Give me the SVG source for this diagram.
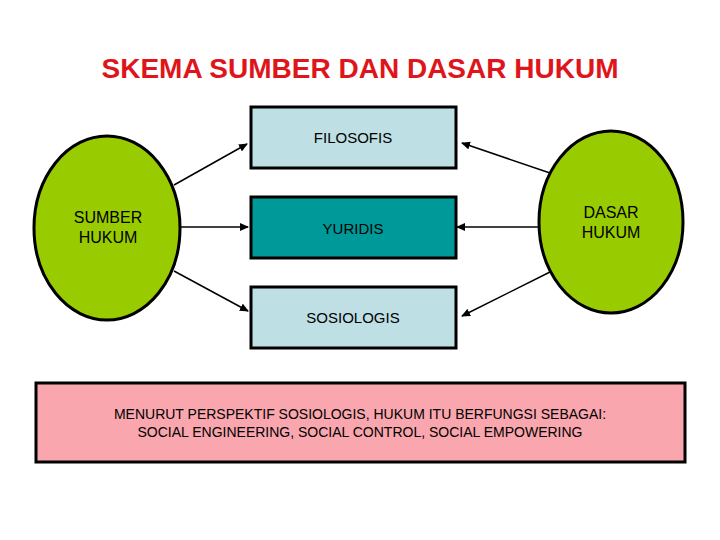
<svg xmlns="http://www.w3.org/2000/svg" width="720" height="540" viewBox="0 0 720 540">
<style>
text{font-family:"Liberation Sans",Arial,sans-serif;fill:#000;text-anchor:middle}
.title{font-size:28px;font-weight:bold;fill:#E0151C}
.lbl{font-size:15px}
.olbl{font-size:16px}
.note{font-size:14px}
.oval{fill:#99CC00;stroke:#000;stroke-width:3}
.box{stroke:#000;stroke-width:3}
.light{fill:#BEDFE3}
.teal{fill:#009999}
.conn line{stroke:#000;stroke-width:1.5;marker-end:url(#ah)}
</style>
<defs>
<marker id="ah" markerUnits="userSpaceOnUse" markerWidth="9" markerHeight="8" refX="8" refY="4" orient="auto">
<path d="M0,0 L9,4 L0,8 z" fill="#000"/>
</marker>
</defs>
<rect width="720" height="540" fill="#fff"/>
<text class="title" x="360" y="78">SKEMA SUMBER DAN DASAR HUKUM</text>
<g id="sumber">
<ellipse class="oval" cx="107" cy="228" rx="73" ry="92"/>
<text class="olbl" x="108" y="223">SUMBER</text>
<text class="olbl" x="108" y="243">HUKUM</text>
</g>
<g id="dasar">
<ellipse class="oval" cx="611" cy="222" rx="72" ry="91"/>
<text class="olbl" x="611" y="218">DASAR</text>
<text class="olbl" x="611" y="238">HUKUM</text>
</g>
<g id="filosofis">
<rect class="box light" x="251" y="107" width="205" height="61"/>
<text class="lbl" x="353" y="143">FILOSOFIS</text>
</g>
<g id="yuridis">
<rect class="box teal" x="251" y="197" width="205" height="61"/>
<text class="lbl" x="353" y="234">YURIDIS</text>
</g>
<g id="sosiologis">
<rect class="box light" x="251" y="287" width="205" height="61"/>
<text class="lbl" x="353" y="323">SOSIOLOGIS</text>
</g>
<g id="note">
<rect class="box" x="36" y="383" width="649" height="79" fill="#F9A6AE"/>
<text class="note" x="360" y="419">MENURUT PERSPEKTIF SOSIOLOGIS, HUKUM ITU BERFUNGSI SEBAGAI:</text>
<text class="note" x="360" y="437">SOCIAL ENGINEERING, SOCIAL CONTROL, SOCIAL EMPOWERING</text>
</g>
<g id="connectors" class="conn">
<line x1="174" y1="185" x2="247" y2="144"/>
<line x1="181" y1="227" x2="248" y2="227"/>
<line x1="174" y1="271" x2="248" y2="311"/>
<line x1="550" y1="173" x2="462" y2="143"/>
<line x1="540" y1="227" x2="457" y2="227"/>
<line x1="550" y1="272" x2="462" y2="316"/>
</g>
</svg>
